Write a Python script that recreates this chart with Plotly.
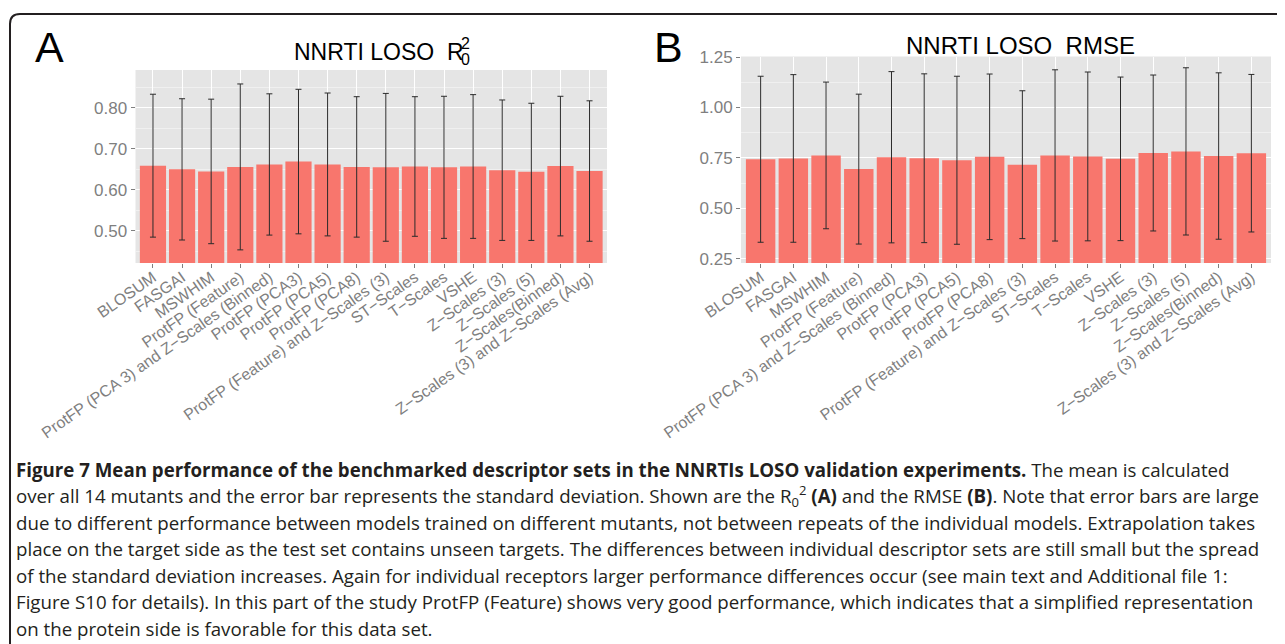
import plotly.graph_objects as go

# The page body has an 8px default margin; the figure is sized to fill the window.
OFF = 8
W, H = 1285 - OFF, 644 - OFF

categories = [
    "BLOSUM", "FASGAI", "MSWHIM", "ProtFP (Feature)",
    "ProtFP (PCA 3) and Z\u2212Scales (Binned)", "ProtFP (PCA3)", "ProtFP (PCA5)",
    "ProtFP (PCA8)", "ProtFP (Feature) and Z\u2212Scales (3)", "ST\u2212Scales",
    "T\u2212Scales", "VSHE", "Z\u2212Scales (3)", "Z\u2212Scales (5)",
    "Z\u2212Scales(Binned)", "Z\u2212Scales (3) and Z\u2212Scales (Avg)",
]

r2_mean = [0.659, 0.650, 0.645, 0.656, 0.662, 0.669, 0.662, 0.656,
           0.655, 0.657, 0.655, 0.657, 0.648, 0.644, 0.658, 0.646]
r2_sd = [0.174, 0.172, 0.176, 0.202, 0.172, 0.176, 0.174, 0.171,
         0.180, 0.170, 0.173, 0.175, 0.171, 0.167, 0.170, 0.171]

rmse_mean = [0.743, 0.747, 0.762, 0.694, 0.753, 0.748, 0.738, 0.755,
             0.716, 0.762, 0.757, 0.745, 0.774, 0.782, 0.759, 0.773]
rmse_sd = [0.412, 0.416, 0.364, 0.372, 0.425, 0.419, 0.417, 0.411,
           0.367, 0.425, 0.419, 0.406, 0.387, 0.415, 0.413, 0.391]

r2_ticks = [0.50, 0.60, 0.70, 0.80]
r2_minor = [0.45, 0.55, 0.65, 0.75, 0.85]
rmse_ticks = [0.25, 0.50, 0.75, 1.00, 1.25]
rmse_minor = [0.375, 0.625, 0.875, 1.125]

caption_lines = [
    "<b>Figure 7 Mean performance of the benchmarked descriptor sets in the NNRTIs LOSO validation experiments.</b> The mean is calculated",
    "over all 14 mutants and the error bar represents the standard deviation. Shown are the R<sub>0</sub><sup>2</sup> <b>(A)</b> and the RMSE <b>(B)</b>. Note that error bars are large",
    "due to different performance between models trained on different mutants, not between repeats of the individual models. Extrapolation takes",
    "place on the target side as the test set contains unseen targets. The differences between individual descriptor sets are still small but the spread",
    "of the standard deviation increases. Again for individual receptors larger performance differences occur (see main text and Additional file 1:",
    "Figure S10 for details). In this part of the study ProtFP (Feature) shows very good performance, which indicates that a simplified representation",
    "on the protein side is favorable for this data set.",
]

BAR = "#F8766D"
GREY_TXT = "#7F7F7F"
PANEL = "#E5E5E5"
FONT = "Liberation Sans, Arial, sans-serif"


def px(x):
    return (x - OFF) / W


def py(y):
    return 1 - (y - OFF) / H


fig = go.Figure()
fig.add_trace(go.Bar(
    x=categories, y=r2_mean, marker=dict(color=BAR, line=dict(width=0)),
    error_y=dict(type="data", array=r2_sd, color="#2b2b2b", thickness=1, width=3),
    xaxis="x", yaxis="y", showlegend=False,
))
fig.add_trace(go.Bar(
    x=categories, y=rmse_mean, marker=dict(color=BAR, line=dict(width=0)),
    error_y=dict(type="data", array=rmse_sd, color="#2b2b2b", thickness=1, width=3),
    xaxis="x2", yaxis="y2", showlegend=False,
))

xcommon = dict(
    type="category", categoryorder="array", categoryarray=categories,
    range=[-0.6, 15.6], tickangle=-35, tickfont=dict(family=FONT, size=16, color=GREY_TXT),
    ticks="outside", ticklen=4, tickcolor=GREY_TXT, tickwidth=1, ticklabelstandoff=-6,
    showgrid=True, gridcolor="white", gridwidth=1, zeroline=False, showline=False,
    automargin=False, fixedrange=True,
)
ycommon = dict(
    tickfont=dict(family=FONT, size=17, color=GREY_TXT), tickformat=".2f",
    ticks="outside", ticklen=4, tickcolor=GREY_TXT, tickwidth=1,
    showgrid=True, gridcolor="white", gridwidth=1.1, zeroline=False, showline=False,
    automargin=False, fixedrange=True, tickmode="array",
)

fig.update_layout(
    width=W, height=H, autosize=False, template="none",
    margin=dict(l=0, r=0, t=0, b=0),
    paper_bgcolor="white", plot_bgcolor=PANEL,
    bargap=0.1,
    xaxis=dict(domain=[px(135.5), px(607)], anchor="y", **xcommon),
    yaxis=dict(domain=[py(263), py(70)], anchor="x", range=[0.422, 0.892],
               tickvals=r2_ticks,
               minor=dict(tickmode="array", tickvals=r2_minor, showgrid=True,
                          gridcolor="#F0F0F0", gridwidth=0.6, ticks=""),
               **ycommon),
    xaxis2=dict(domain=[px(741), px(1271)], anchor="y2", **xcommon),
    yaxis2=dict(domain=[py(263), py(56.5)], anchor="x2", range=[0.228, 1.253],
                tickvals=rmse_ticks,
                minor=dict(tickmode="array", tickvals=rmse_minor, showgrid=True,
                           gridcolor="#F0F0F0", gridwidth=0.6, ticks=""),
                **ycommon),
)

ann = []
# panel letters
ann.append(dict(text="A", x=px(33), y=py(47), xref="paper", yref="paper",
                xanchor="left", yanchor="middle", showarrow=False,
                font=dict(family=FONT, size=43, color="black")))
ann.append(dict(text="B", x=px(652), y=py(47), xref="paper", yref="paper",
                xanchor="left", yanchor="middle", showarrow=False,
                font=dict(family=FONT, size=43, color="black")))
# titles
ann.append(dict(text="NNRTI LOSO  R", x=px(292), y=py(52), xref="paper", yref="paper",
                xanchor="left", yanchor="middle", showarrow=False,
                font=dict(family=FONT, size=23, color="black")))
ann.append(dict(text="2", x=px(459), y=py(43), xref="paper", yref="paper",
                xanchor="left", yanchor="middle", showarrow=False,
                font=dict(family=FONT, size=16, color="black")))
ann.append(dict(text="0", x=px(459), y=py(59), xref="paper", yref="paper",
                xanchor="left", yanchor="middle", showarrow=False,
                font=dict(family=FONT, size=16, color="black")))
ann.append(dict(text="NNRTI LOSO  RMSE", x=px(1020), y=py(45), xref="paper", yref="paper",
                xanchor="center", yanchor="middle", showarrow=False,
                font=dict(family=FONT, size=24, color="black")))
# caption
for i, line in enumerate(caption_lines):
    ann.append(dict(text=line, x=px(14), y=py(469 + 26.5 * i), xref="paper", yref="paper",
                    xanchor="left", yanchor="middle", showarrow=False, align="left",
                    font=dict(family="Open Sans, sans-serif", size=18.7, color="#231F20")))
fig.update_layout(annotations=ann)

# rounded frame (top and left edges visible)
r = 10
path = (f"M {px(10)},{py(700)} L {px(10)},{py(14 + r)} "
        f"Q {px(10)},{py(14)} {px(10 + r)},{py(14)} L {px(1300)},{py(14)}")
fig.add_shape(type="path", path=path, xref="paper", yref="paper",
              line=dict(color="#231F20", width=2))

fig.write_html("out.html")
